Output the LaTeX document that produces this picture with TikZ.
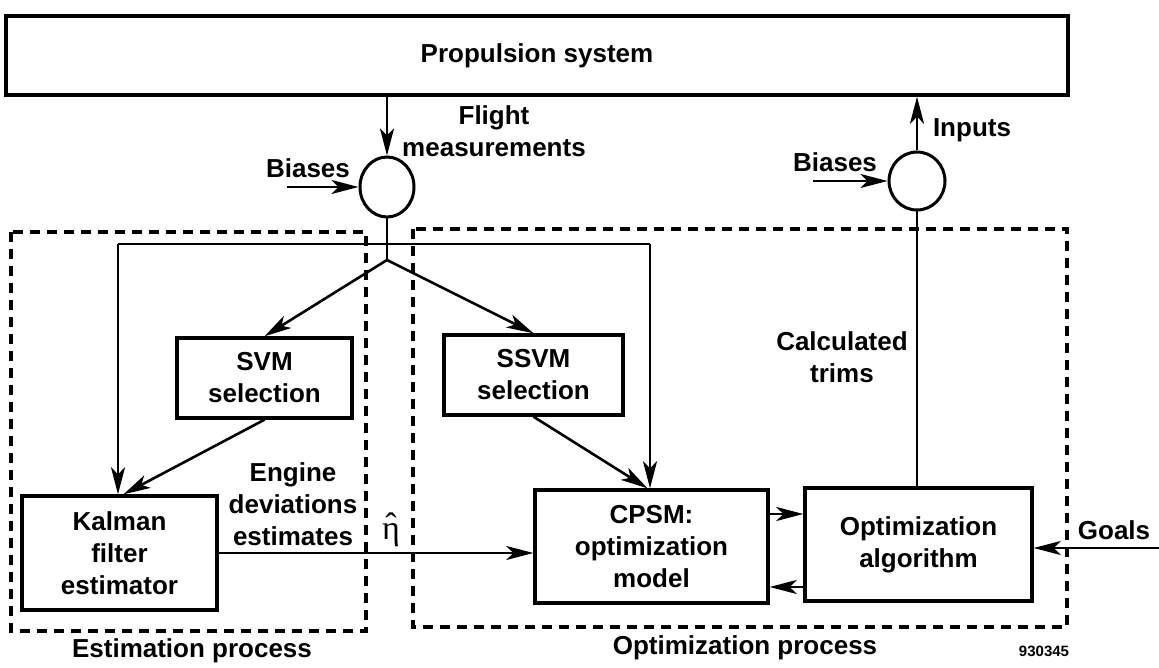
\documentclass[tikz,border=0pt]{standalone}
\usepackage{fontspec}
\setmainfont{Liberation Sans}
\newfontfamily\etafont{Liberation Serif}
\usetikzlibrary{arrows.meta,shapes.geometric,calc}
\newcommand{\etahat}{\ooalign{η\cr\hidewidth\raisebox{0.08em}{ˆ}\hidewidth\cr}}
\begin{document}
\begin{tikzpicture}[x=1pt,y=-1pt,
  every node/.style={font=\fontsize{26}{32}\selectfont\bfseries, inner sep=0pt},
  blk/.style={draw, line width=3.4pt, align=center},
  sumnode/.style={draw, ellipse, line width=3pt},
  conn/.style={line width=2.6pt},
  arr/.style={conn, -{Stealth[length=27pt,width=14pt,inset=7pt]}},
  grp/.style={line width=3.4pt, dash pattern=on 10pt off 7pt},
  lbl/.style={align=center}]
\useasboundingbox (0,0) rectangle (1159,668);
\fill[white] (0,0) rectangle (1159,668);

% blocks
\node[blk, minimum width=1062, minimum height=79] (prop) at (537,55.5) {Propulsion system};
\node[sumnode, minimum width=54, minimum height=60] (c1) at (387,187) {};
\node[sumnode, minimum width=56, minimum height=58] (c2) at (917,181) {};
\node[blk, minimum width=175, minimum height=80] (svm) at (264.5,378) {SVM\\selection};
\node[blk, minimum width=179, minimum height=80] (ssvm) at (533.5,375) {SSVM\\selection};
\node[blk, minimum width=195, minimum height=114] (kal) at (119.5,553) {Kalman\\filter\\estimator};
\node[blk, minimum width=233, minimum height=113] (cpsm) at (651.5,546.5) {CPSM:\\optimization\\model};
\node[blk, minimum width=227, minimum height=113] (opt) at (918.5,544.5) {Optimization\\algorithm};

% group boxes
\draw[grp] (11,232) rectangle (366,631);
\draw[grp] (413,229) rectangle (1067,627);

% labels
\node[lbl] (flt) at (494,131.5) {Flight\\measurements};
\node (bi1) at (308,168) {Biases};
\node (bi2) at (835,162) {Biases};
\node (inp) at (972,130) {Inputs};
\node[lbl] (eng) at (293,504) {Engine\\deviations\\estimates};
\node[font=\etafont\fontsize{34}{36}\selectfont] (eta) at (391,531) {\etahat};
\node[lbl] (calc) at (842,357.5) {Calculated\\trims};
\node (goals) at (1114,530) {Goals};
\node (estp) at (192,651) {Estimation process};
\node (optp) at (745,648) {Optimization process};
\node[font=\fontsize{15}{18}\selectfont\bfseries] (num) at (1044,651) {930345};

% coordinates
\coordinate (bs1) at (287,187);
\coordinate (bs2) at (813,181);
\coordinate (br) at (387,260);
\coordinate (lt) at (118,244);
\coordinate (rt) at (650,244);
\coordinate (gs) at (1159,548);

% connectors
\draw[arr] (prop.south -| c1) -- (c1.north);
\draw[arr] (bs1) -- (c1.west);
\draw[conn] (c1.south) -- (br);
\draw[conn] (lt) -- (rt);
\draw[arr] (lt) -- (lt |- kal.north);
\draw[arr] (rt) -- (rt |- cpsm.north);
\draw[arr] (br) -- (svm.north);
\draw[arr] (br) -- (ssvm.north);
\draw[arr] (svm.south) -- ([xshift=4pt]kal.north);
\draw[arr] (ssvm.south) -- ([xshift=-4pt]cpsm.north);
\draw[arr] (kal.east) -- (kal.east -| cpsm.west);
\draw[arr] ([yshift=32.5pt]cpsm.east) -- ([yshift=32.5pt]cpsm.east -| opt.west);
\draw[arr] ([yshift=-42.5pt]opt.west) -- ([yshift=-42.5pt]opt.west -| cpsm.east);
\draw[conn] (opt.north -| c2) -- (c2.south);
\draw[arr] (c2.north) -- (c2.north |- prop.south);
\draw[arr] (bs2) -- (c2.west);
\draw[arr] (gs) -- (gs -| opt.east);
\end{tikzpicture}
\end{document}
